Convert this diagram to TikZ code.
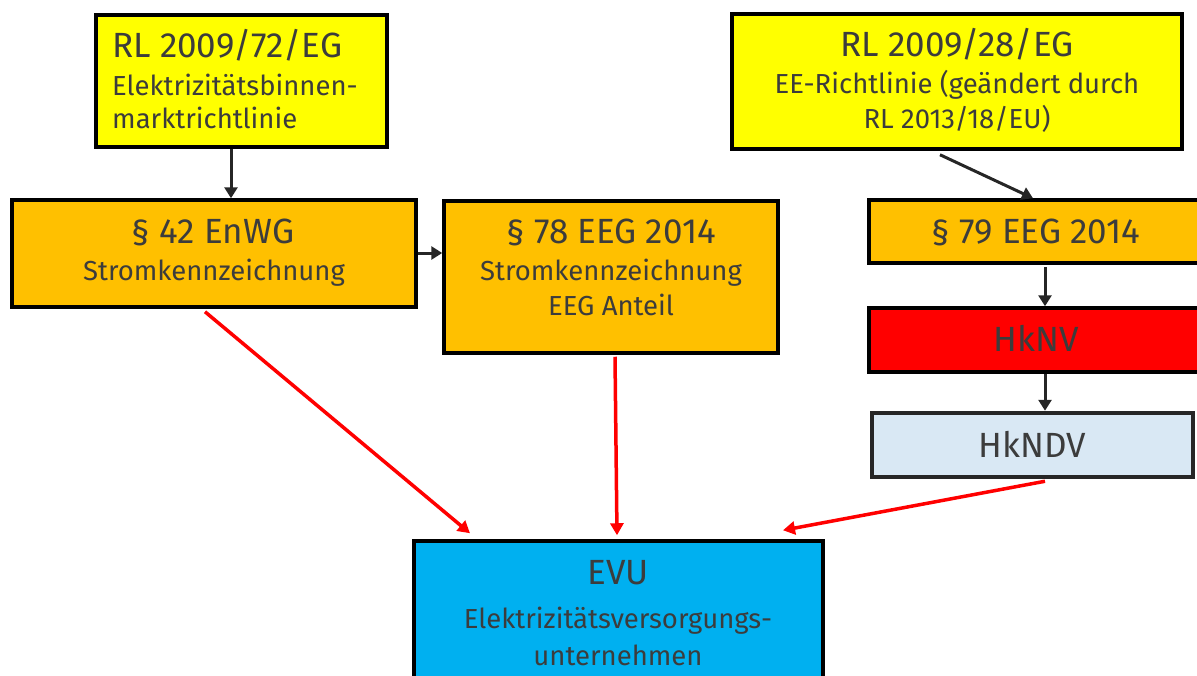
\documentclass[tikz,border=0pt]{standalone}
\usepackage{fontspec}
\setmainfont{Fira Sans}
\usetikzlibrary{arrows.meta,calc}
\definecolor{txtc}{HTML}{3C3C3C}
\definecolor{yel}{HTML}{FFFF00}
\definecolor{ora}{HTML}{FFC000}
\definecolor{redbox}{HTML}{FF0000}
\definecolor{lblue}{HTML}{D9E8F4}
\definecolor{evublue}{HTML}{00B0F0}
\definecolor{arrgray}{HTML}{262626}
\definecolor{redarr}{HTML}{FF0000}
\tikzset{
  box/.style={draw=black, line width=3.5pt, rectangle, inner sep=0pt},
  big/.style={font=\fontsize{35}{42}\selectfont, text=txtc, inner sep=0pt, anchor=base},
  small/.style={font=\fontsize{27.5}{33}\selectfont, text=txtc, inner sep=0pt, anchor=base},
  darr/.style={draw=arrgray, line width=3pt, -{Triangle[length=11pt,width=13pt]}},
  rarr/.style={draw=redarr, line width=3.5pt, -{Triangle[length=12pt,width=13pt]}},
}
\begin{document}
\begin{tikzpicture}[x=1pt,y=-1pt]
\useasboundingbox (0,0) rectangle (1197,675);
\clip (0,0) rectangle (1197,675);
% boxes
\node[box, fill=yel, minimum width=291pt, minimum height=132pt] (b1) at (241.5,81) {};
\node[box, fill=ora, minimum width=404pt, minimum height=107pt] (b2) at (214,253.5) {};
\node[box, fill=ora, minimum width=334pt, minimum height=152pt] (b3) at (611,277) {};
\node[box, fill=yel, minimum width=450pt, minimum height=135pt] (b4) at (957,81.5) {};
\node[box, fill=ora, minimum width=340pt, minimum height=63pt] (b5) at (1039,231.5) {};
\node[box, fill=redbox, minimum width=340pt, minimum height=64pt] (b6) at (1039,340) {};
\node[box, draw=arrgray, line width=4.5pt, fill=lblue, minimum width=321pt, minimum height=64pt] (b7) at (1032.5,445) {};
\node[box, fill=evublue, minimum width=409pt, minimum height=160pt] (b8) at (618.5,621) {};
% texts
\node[big, anchor=base west] (t1a) at (112,57) {RL 2009/72/EG};
\node[small, anchor=base west] (t1b) at (112,95) {Elektrizitätsbinnen-};
\node[small, anchor=base west] (t1c) at (112,128) {marktrichtlinie};
\node[big] (t2a) at (213,243) {§ 42 EnWG};
\node[small] (t2b) at (214,280) {Stromkennzeichnung};
\node[big] (t3a) at (611,243) {§ 78 EEG 2014};
\node[small] (t3b) at (611,280) {Stromkennzeichnung};
\node[small] (t3c) at (611,315) {EEG Anteil};
\node[big] (t4a) at (957,56) {RL 2009/28/EG};
\node[small] (t4b) at (957,93) {EE-Richtlinie (geändert durch};
\node[small] (t4c) at (957,128) {RL 2013/18/EU)};
\node[big] (t5) at (1036,243) {§ 79 EEG 2014};
\node[big] (t6) at (1036,351) {HkNV};
\node[big] (t7) at (1032.5,457) {HkNDV};
\node[big] (t8a) at (618,584) {EVU};
\node[small] (t8b) at (618,628) {Elektrizitätsversorgungs-};
\node[small] (t8c) at (618,665) {unternehmen};
% connector end points
\coordinate (s1) at ($(b1.south)+(-10.5,0)$);
\coordinate (s2) at ($(b2.east)+(0,-0.5)$);
\coordinate (s4) at ($(b4.south)+(-17,4)$);
\coordinate (e4) at ($(b5.north)+(-6,0)$);
\coordinate (s5) at ($(b5.south)+(6,2)$);
\coordinate (s6) at ($(b6.south)+(6,0)$);
% dark connectors
\draw[darr] (s1) -- (s1 |- b2.north);
\draw[darr] (s2) -- (s2 -| b3.west);
\draw[darr] (s4) -- (e4);
\draw[darr] (s5) -- (s5 |- b6.north);
\draw[darr] (s6) -- (s6 |- b7.north);
% red connectors
\coordinate (r1s) at ($(b2.south)+(-9,3)$);
\coordinate (r1e) at ($(b8.north)+(-148.5,-6)$);
\coordinate (r2s) at ($(b3.south)+(4,2)$);
\coordinate (r2e) at ($(b8.north)+(-1.5,-4)$);
\coordinate (r3s) at ($(b7.south)+(12.5,2)$);
\coordinate (r3e) at ($(b8.north)+(164.5,-9)$);
\draw[rarr] (r1s) -- (r1e);
\draw[rarr] (r2s) -- (r2e);
\draw[rarr] (r3s) -- (r3e);
\end{tikzpicture}
\end{document}
